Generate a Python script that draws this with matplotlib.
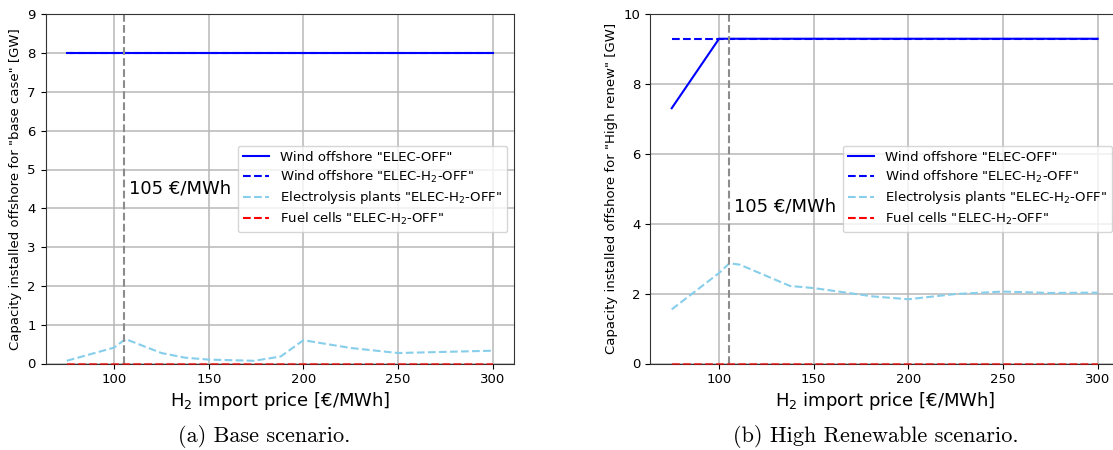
import matplotlib
matplotlib.use("Agg")
import matplotlib.pyplot as plt

# H2 import price axis (EUR/MWh)
price_span = [75, 300]
price_ticks = [100, 150, 200, 250, 300]

# Base scenario
base_wind_elec = [8.0, 8.0]
base_wind_h2 = [8.0, 8.0]
base_elys_price = [75, 100, 106, 125, 137.5, 150, 174, 188, 200, 225, 250, 300]
base_elys = [0.07, 0.41, 0.63, 0.27, 0.15, 0.10, 0.07, 0.18, 0.60, 0.40, 0.27, 0.33]
base_fc = [0.0, 0.0]

# High renewable scenario
hr_wind_elec_price = [75, 100, 300]
hr_wind_elec = [7.31, 9.30, 9.30]
hr_wind_h2 = [9.30, 9.30]
hr_elys_price = [75, 100, 105.5, 111, 137.5, 150, 181.5, 200, 225, 250, 275, 300]
hr_elys = [1.55, 2.59, 2.87, 2.83, 2.22, 2.16, 1.92, 1.84, 1.99, 2.06, 2.02, 2.03]
hr_fc = [0.0, 0.0]

threshold = 105
threshold_label = "105 €/MWh"

W, H = 1113, 450
fig = plt.figure(figsize=(W / 100, H / 100), dpi=100)

ax_a = fig.add_axes([45.5 / W, 1 - 363.5 / H, (514 - 45.5) / W, (363.5 - 14.3) / H])
ax_b = fig.add_axes([650.4 / W, 1 - 363.5 / H, (1119 - 650.4) / W, (363.5 - 14.3) / H])


def draw(ax, wind_x, wind, wind_h2, elys_x, elys, fc, ymax, ylabel):
    ax.set_axisbelow(True)
    ax.grid(True, color="#b8b8b8", linewidth=1.1)
    for sp in ax.spines.values():
        sp.set_color("#333333")
    ax.plot(wind_x, wind, color="blue", linewidth=1.5,
            label='Wind offshore "ELEC-OFF"')
    ax.plot(price_span, wind_h2, color="blue", linestyle="--", linewidth=1.5,
            label='Wind offshore "ELEC-H$_2$-OFF"')
    ax.plot(elys_x, elys, color="skyblue", linestyle="--", linewidth=1.5,
            label='Electrolysis plants "ELEC-H$_2$-OFF"')
    ax.plot(price_span, fc, color="red", linestyle="--", linewidth=1.5,
            label='Fuel cells "ELEC-H$_2$-OFF"', clip_on=False, zorder=4,
            alpha=0.6)
    ax.axvline(threshold, color="#8c8c8c", linestyle="--", linewidth=1.5)
    ax.text(108, 4.5, threshold_label, fontsize=13, va="center")
    ax.set_xticks(price_ticks)
    ax.set_ylim(0, ymax)
    ax.tick_params(labelsize=9.5)
    ax.set_xlabel("H$_2$ import price [€/MWh]", fontsize=13, labelpad=3)
    ax.set_ylabel(ylabel, fontsize=9.5, labelpad=4)
    leg = ax.legend(loc="center right", fontsize=9.5, labelspacing=0.35)
    for line in leg.get_lines():
        line.set_alpha(1.0)


draw(ax_a, price_span, base_wind_elec, base_wind_h2, base_elys_price, base_elys,
     base_fc, 9, 'Capacity installed offshore for "base case" [GW]')
draw(ax_b, hr_wind_elec_price, hr_wind_elec, hr_wind_h2, hr_elys_price, hr_elys,
     hr_fc, 10, 'Capacity installed offshore for "High renew" [GW]')

fig.text(264 / W, 1 - 436.7 / H, "(a) Base scenario.", family="cmr10",
         fontsize=16, ha="center", va="center")
fig.text(876 / W, 1 - 436.7 / H, "(b) High Renewable scenario.", family="cmr10",
         fontsize=16, ha="center", va="center")

fig.savefig("out.png", dpi=100)
